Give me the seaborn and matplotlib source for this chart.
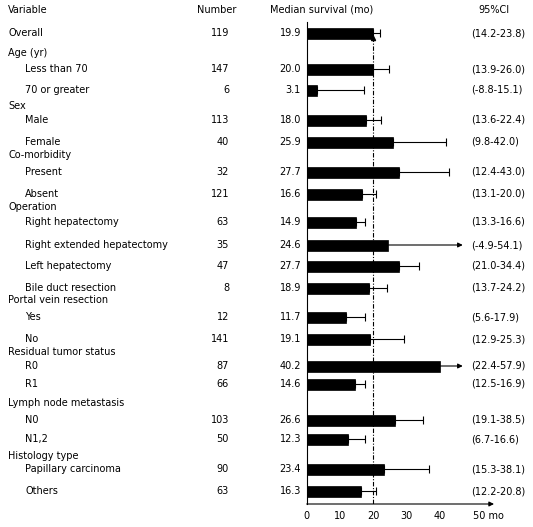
import numpy as np
import pandas as pd
import matplotlib
matplotlib.use("Agg")
import matplotlib.pyplot as plt
import seaborn as sns

# ---- data ----
labels = ["Overall", "Age (yr)", "Less than 70", "70 or greater", "Sex", "Male", "Female",
          "Co-morbidity", "Present", "Absent", "Operation", "Right hepatectomy",
          "Right extended hepatectomy", "Left hepatectomy", "Bile duct resection",
          "Portal vein resection", "Yes", "No", "Residual tumor status", "R0", "R1",
          "Lymph node metastasis", "N0", "N1,2", "Histology type", "Papillary carcinoma", "Others"]
is_header = [True, True, False, False, True, False, False,
             True, False, False, True, False,
             False, False, False,
             True, False, False, True, False, False,
             True, False, False, True, False, False]
numbers = ["119", "", "147", "6", "", "113", "40",
           "", "32", "121", "", "63",
           "35", "47", "8",
           "", "12", "141", "", "87", "66",
           "", "103", "50", "", "90", "63"]
medians = [19.9, np.nan, 20.0, 3.1, np.nan, 18.0, 25.9,
           np.nan, 27.7, 16.6, np.nan, 14.9,
           24.6, 27.7, 18.9,
           np.nan, 11.7, 19.1, np.nan, 40.2, 14.6,
           np.nan, 26.6, 12.3, np.nan, 23.4, 16.3]
# upper whisker ends as drawn
whisker_hi = [22.0, np.nan, 24.8, 17.3, np.nan, 22.4, 42.0,
              np.nan, 42.9, 21.0, np.nan, 17.6,
              54.1, 33.8, 24.1,
              np.nan, 17.6, 29.3, np.nan, 57.9, 17.6,
              np.nan, 35.0, 17.6, np.nan, 36.8, 21.0]
ci_text = ["(14.2-23.8)", "", "(13.9-26.0)", "(-8.8-15.1)", "", "(13.6-22.4)", "(9.8-42.0)",
           "", "(12.4-43.0)", "(13.1-20.0)", "", "(13.3-16.6)",
           "(-4.9-54.1)", "(21.0-34.4)", "(13.7-24.2)",
           "", "(5.6-17.9)", "(12.9-25.3)", "", "(22.4-57.9)", "(12.5-16.9)",
           "", "(19.1-38.5)", "(6.7-16.6)", "", "(15.3-38.1)", "(12.2-20.8)"]
xticks = [0, 10, 20, 30, 40, 50]
xticklabels = ["0", "10", "20", "30", "40", "50 mo"]

# ---- layout (pixels from the top of the figure) ----
row_y = [33, 53, 69, 90, 106, 120, 142,
         155, 172, 194, 207, 222,
         245, 266, 288,
         300, 317, 339, 352, 366, 384,
         403, 420, 439, 456, 469, 491]
W, H = 533, 527
X0, SCALE = 306.7, 3.32      # pixel of x=0, pixels per month
AXIS_Y = 504
X_END = (494 - X0) / SCALE
ARROW_END = 47
BAR_PX = 11
FS = 7


def xd(px):
    return (px - X0) / SCALE


sns.set_theme(style="white")
plt.rcParams["font.family"] = ["DejaVu Sans"]
plt.rcParams["text.color"] = "black"
plt.rcParams["xtick.color"] = "black"

fig = plt.figure(figsize=(W / 100, H / 100), dpi=100)
ax = fig.add_axes([X0 / W, (H - AXIS_Y) / H, (494 - X0) / W, AXIS_Y / H])

df = pd.DataFrame({"label": labels, "median": medians, "hi": whisker_hi,
                   "y": row_y, "header": is_header})
bars = df.dropna(subset=["median"])
sns.barplot(data=bars, x="median", y="y", orient="y", native_scale=True,
            color="black", saturation=1, errorbar=None, ax=ax,
            edgecolor="black", linewidth=0.5)
# set bar thickness in pixels
for p in ax.patches:
    yc = p.get_y() + p.get_height() / 2
    p.set_height(BAR_PX)
    p.set_y(yc - BAR_PX / 2)
    p.set_facecolor("black")

# whiskers (one-sided), arrows when off the scale
normal = bars[bars["hi"] <= 50]
ax.errorbar(normal["median"], normal["y"],
            xerr=[np.zeros(len(normal)), normal["hi"] - normal["median"]],
            fmt="none", ecolor="black", elinewidth=0.8, capsize=3, capthick=0.8)
for _, r in bars[bars["hi"] > 50].iterrows():
    ax.annotate("", xy=(ARROW_END, r["y"]), xytext=(r["median"], r["y"]),
                arrowprops=dict(arrowstyle="-|>", color="black", lw=0.8,
                                mutation_scale=7, shrinkA=0, shrinkB=0))

# overall median reference line
ax.vlines(medians[0], 37, AXIS_Y, colors="black", linestyles=(0, (4, 1.5, 1, 1.5)), lw=0.8)
ax.plot(medians[0], 38, marker="^", color="black", ms=3)

ax.set_xlim(0, X_END)
ax.set_ylim(AXIS_Y, 0)
ax.set_xlabel("")
ax.set_ylabel("")
ax.set_yticks([])
ax.set_xticks(xticks)
ax.set_xticklabels(xticklabels, fontsize=FS)
ax.get_xticklabels()[-1].set_horizontalalignment("left")
ax.tick_params(axis="x", direction="in", length=4, width=0.8, color="black", pad=5)
for s in ["top", "right", "bottom"]:
    ax.spines[s].set_visible(False)
ax.spines["left"].set_color("black")
ax.spines["left"].set_linewidth(0.8)
ax.spines["left"].set_bounds(AXIS_Y, 22)
ax.annotate("", xy=(X_END, AXIS_Y), xytext=(0, AXIS_Y), annotation_clip=False,
            arrowprops=dict(arrowstyle="-|>", color="black", lw=0.8,
                            mutation_scale=7, shrinkA=0, shrinkB=0))

# column headers
ax.text(xd(8), 10, "Variable", fontsize=FS, va="center", ha="left", clip_on=False)
ax.text(xd(217), 10, "Number", fontsize=FS, va="center", ha="center", clip_on=False)
ax.text(xd(322), 10, "Median survival (mo)", fontsize=FS, va="center", ha="center", clip_on=False)
ax.text(xd(494), 10, "95%CI", fontsize=FS, va="center", ha="center", clip_on=False)

# table text
for i, lab in enumerate(labels):
    y = row_y[i]
    ax.text(xd(8 if is_header[i] else 25), y, lab, fontsize=FS, va="center", ha="left", clip_on=False)
    if numbers[i]:
        ax.text(xd(229), y, numbers[i], fontsize=FS, va="center", ha="right", clip_on=False)
    if not np.isnan(medians[i]):
        ax.text(xd(301), y, f"{medians[i]:.1f}", fontsize=FS, va="center", ha="right", clip_on=False)
    if ci_text[i]:
        ax.text(xd(471), y, ci_text[i], fontsize=FS, va="center", ha="left", clip_on=False)

fig.savefig("out.png", dpi=100)
